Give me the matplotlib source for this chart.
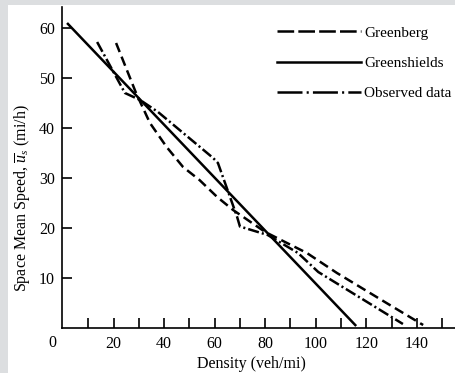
import matplotlib
matplotlib.use("Agg")
import matplotlib.pyplot as plt
from matplotlib.lines import Line2D
from matplotlib.patches import Rectangle

# ---- data ----
greenshields_density = [1.6, 116.0]
greenshields_speed = [61.0, 0.4]

greenberg_density = [21.0, 28.9, 34.4, 41.0, 47.5, 54.0, 61.0, 67.3, 80.0, 96.5, 108.4, 128.0, 142.5]
greenberg_speed = [57.0, 47.0, 41.0, 36.2, 32.2, 29.6, 26.2, 23.6, 19.2, 15.0, 11.0, 5.0, 0.6]

observed_density = [13.5, 24.5, 30.5, 37.6, 59.4, 61.3, 68.9, 70.0, 81.0, 93.0, 101.0, 134.5]
observed_speed = [57.2, 47.0, 45.6, 43.2, 34.0, 33.0, 22.2, 20.3, 18.6, 15.0, 11.2, 0.8]

x_ticks = [10, 20, 30, 40, 50, 60, 70, 80, 90, 100, 110, 120, 130, 140, 150]
x_tick_labels = ["", "20", "", "40", "", "60", "", "80", "", "100", "", "120", "", "140", ""]
y_ticks = [10, 20, 30, 40, 50, 60]
y_tick_labels = ["10", "20", "30", "40", "50", "60"]

series_labels = ["Greenberg", "Greenshields", "Observed data"]

# ---- style ----
plt.rcParams["font.family"] = ["Liberation Serif", "DejaVu Serif"]
plt.rcParams["mathtext.fontset"] = "custom"
plt.rcParams["mathtext.rm"] = "Liberation Serif"
plt.rcParams["mathtext.it"] = "Liberation Serif:italic"
plt.rcParams["lines.scale_dashes"] = False

W, H = 456, 373
fig = plt.figure(figsize=(W / 100, H / 100), dpi=100, facecolor="#dcdee0")
bg = Rectangle((8 / W, 0), 1, (H - 5) / H, transform=fig.transFigure,
               facecolor="white", edgecolor="none", zorder=-10)
fig.patches.append(bg)

ax = fig.add_axes([62 / W, (H - 328) / H, (W - 62) / W, (328 - 7) / H])
ax.set_zorder(5)
ax.patch.set_alpha(0)

lw = 1.8
ax.plot(greenshields_density, greenshields_speed, color="black", lw=lw, solid_capstyle="butt")
ax.plot(greenberg_density, greenberg_speed, color="black", lw=lw,
        linestyle=(0, (7.0, 3.6)), dash_capstyle="butt")
ax.plot(observed_density, observed_speed, color="black", lw=lw,
        linestyle=(0, (8.0, 2.2, 1.5, 2.2)), dash_capstyle="butt")

ax.set_xlim(-0.4, 155.5)
ax.set_ylim(0, 64.2)

for s in ["top", "right"]:
    ax.spines[s].set_visible(False)
for s in ["left", "bottom"]:
    ax.spines[s].set_linewidth(1.2)

ax.set_xticks(x_ticks)
ax.set_xticklabels(x_tick_labels)
ax.set_yticks(y_ticks)
ax.set_yticklabels(y_tick_labels)
ax.tick_params(axis="both", direction="in", length=7.5, width=1.2, labelsize=11.5, colors="black")
ax.tick_params(axis="x", pad=6)
ax.tick_params(axis="y", pad=5)

ax.annotate("0", xy=(0, 0), xycoords="data", xytext=(-7.5, -10.5), textcoords="offset points",
            ha="center", va="center", fontsize=11.5)

fig.text(251 / W, (H - 364) / H, "Density (veh/mi)", ha="center", va="center", fontsize=11.5)
fig.text(22 / W, (H - 198) / H, r"Space Mean Speed, $\overline{u}_s$ (mi/h)",
         rotation=90, ha="center", va="center", fontsize=11.5)

handles = [
    Line2D([], [], color="black", lw=lw, linestyle=(0, (12, 3)), dash_capstyle="butt"),
    Line2D([], [], color="black", lw=lw),
    Line2D([], [], color="black", lw=lw, linestyle=(0, (18, 3, 1.5, 3)), dash_capstyle="butt"),
]
ax.legend(handles, series_labels, loc="upper left", bbox_to_anchor=(277 / W, (H - 26) / H),
          bbox_transform=fig.transFigure, frameon=False, fontsize=11,
          handlelength=5.5, handletextpad=0.2, labelspacing=1.08, borderpad=0, borderaxespad=0)

fig.savefig("out.png", dpi=100, facecolor=fig.get_facecolor())
